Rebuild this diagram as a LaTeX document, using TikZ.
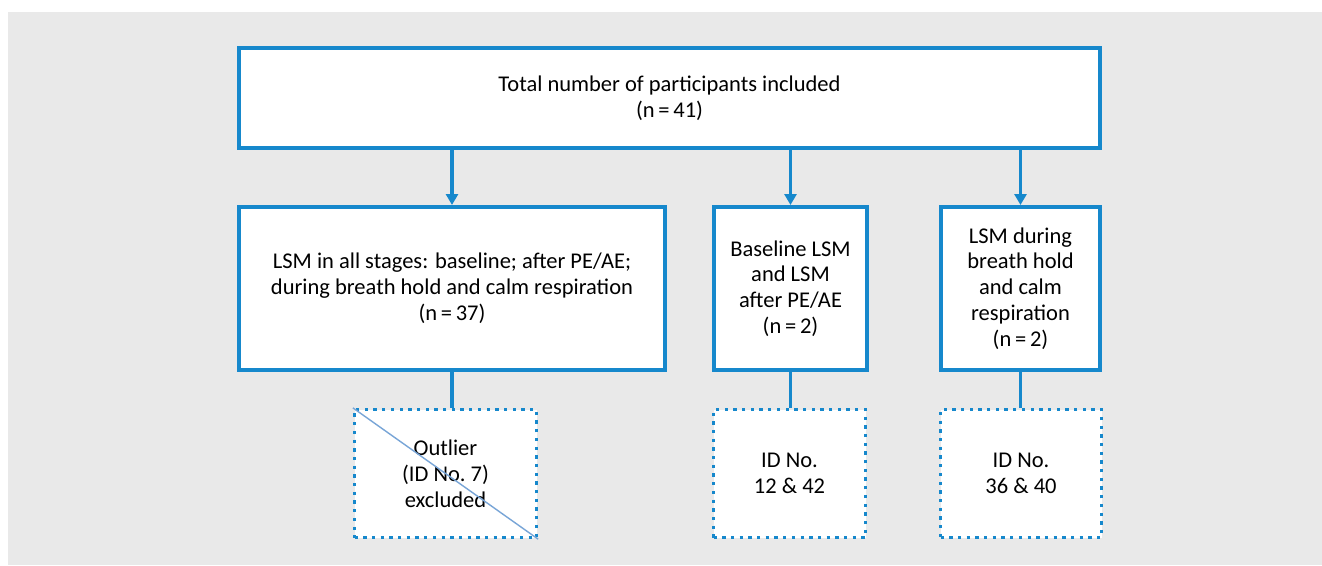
\documentclass[tikz,border=0pt]{standalone}
\usepackage{fontspec}
\setmainfont{Carlito}
\usetikzlibrary{arrows.meta}
\definecolor{flowblue}{RGB}{22,136,204}
\definecolor{crossblue}{RGB}{120,165,215}
\definecolor{bggray}{RGB}{233,233,233}
\begin{document}
\begin{tikzpicture}
  [x=1pt,y=-1pt,every node/.style={rectangle,fill=white,align=center,
    font=\fontsize{22.5}{25.8}\selectfont,inner sep=0pt},
   box/.style={draw=flowblue,line width=4pt},
   idbox/.style={draw=flowblue,line width=3.3pt,dash pattern=on 3.3pt off 5.4pt},
   link/.style={draw=flowblue,line width=3.3pt}]
  \useasboundingbox (0,0) rectangle (1322,565);
  \fill[bggray] (8,12) rectangle (1322,565);

  \node (n1)[box,minimum width=861pt,minimum height=100pt] at (669.5,98)
    {Total number of participants included\\(n\,=\,41)};
  \node (n2)[box,minimum width=426pt,minimum height=163pt] at (452,288.5)
    {LSM in all stages: baseline; after PE/AE;\\during breath hold and calm respiration\\(n\,=\,37)};
  \node (n3)[box,minimum width=153pt,minimum height=163pt] at (790.5,288.5)
    {Baseline LSM\\and LSM\\after PE/AE\\(n\,=\,2)};
  \node (n4)[box,minimum width=159pt,minimum height=163pt] at (1020.5,288.5)
    {LSM during\\breath hold\\and calm\\respiration\\(n\,=\,2)};
  \node (n5)[idbox,minimum width=182pt,minimum height=128pt] at (445.5,473.5)
    {Outlier\\(ID No.~7)\\excluded};
  \node (n6)[idbox,minimum width=152pt,minimum height=128pt] at (789.5,473.5)
    {ID No.\\12 \& 42};
  \node (n7)[idbox,minimum width=161pt,minimum height=128pt] at (1021,473.5)
    {ID No.\\36 \& 40};

  \draw[crossblue,line width=1.4pt] (n5.north west) -- (n5.south east);

  \foreach \from/\to in {n2/n5,n3/n6,n4/n7}
    \draw[link] (\from.south) -- (\from.south |- \to.north);
  \foreach \to in {n2,n3,n4}
    \draw[link,-{Triangle[width=12pt,length=11pt]}] (n1.south -| \to.north) -- (\to.north);

\end{tikzpicture}
\end{document}
